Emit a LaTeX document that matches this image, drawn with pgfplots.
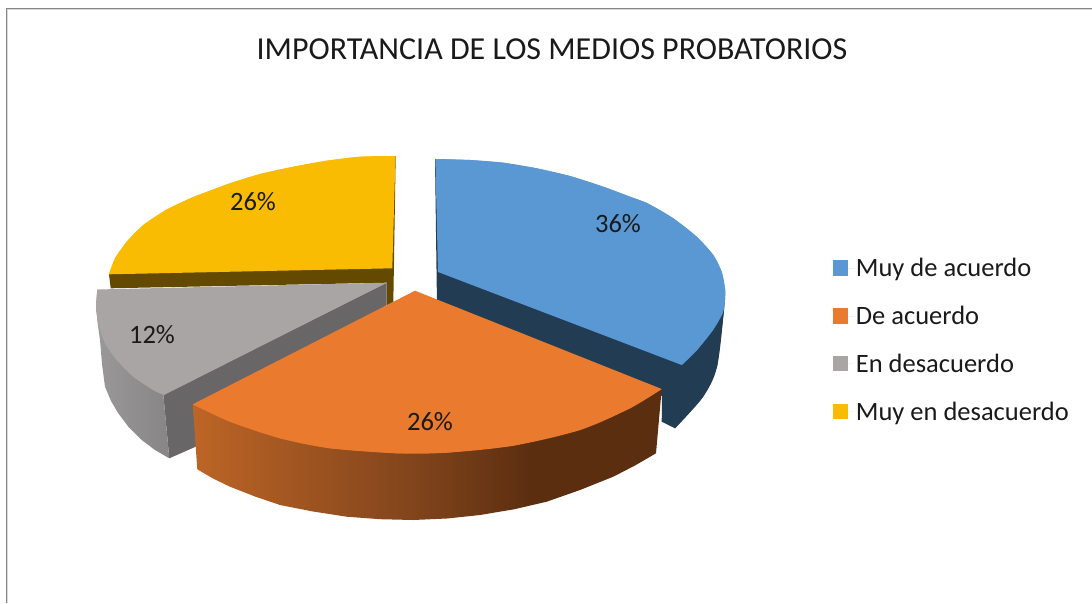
\documentclass[border=0pt]{standalone}
\usepackage{pgfplots}
\pgfplotsset{compat=1.18}
\usepackage{fontspec}
\setmainfont{Carlito}
\definecolor{blueT}{HTML}{5A98D3}
\definecolor{blueD}{HTML}{223C54}
\definecolor{orT}{HTML}{E97A2E}
\definecolor{orA}{HTML}{BD6526}
\definecolor{orB}{HTML}{7D421B}
\definecolor{orC}{HTML}{5C2E10}
\definecolor{grT}{HTML}{A9A5A4}
\definecolor{grD}{HTML}{686666}
\definecolor{grA}{HTML}{9A9898}
\definecolor{grB}{HTML}{878585}
\definecolor{yeT}{HTML}{FABC02}
\definecolor{yeD}{HTML}{634A00}
\definecolor{txt}{HTML}{1A1A1A}
\pgfdeclarehorizontalshading{orside}{100bp}{color(0bp)=(orA); color(25bp)=(orA); color(50bp)=(orB); color(61bp)=(orC); color(100bp)=(orC)}
\begin{document}
\begin{tikzpicture}
\begin{axis}[
  scale only axis, width=1092pt, height=603pt,
  xmin=0, xmax=1092, ymin=0, ymax=603, y dir=reverse,
  axis lines=none, clip=true,
  every axis plot/.append style={forget plot, sharp plot, draw=none},
  legend style={draw=none, fill=none, at={(axis cs:832.7,256)}, anchor=north west,
    font=\fontsize{26.5}{26.5}\selectfont\color{txt}, row sep=24pt, inner sep=0pt,
    cells={anchor=west}},
  legend cell align=left,
  legend image code/.code={\fill[#1] (0pt,-7.5pt) rectangle (15.5pt,8pt); \path (0pt,0pt) -- (21pt,0pt);},
]
\path (axis cs:0,0) rectangle (axis cs:1092,603);
% frame
\addplot[draw=black!15, line width=1pt] coordinates {(7.9,603) (7.9,9.9) (1092,9.9)};
\addplot[draw=black!48, line width=1.3pt] coordinates {(6.5,603) (6.5,8.5) (1092,8.5)};
% yellow side and top
\addplot[fill=yeD] coordinates {(109,274.3)(110.7,288.3)(386.7,282.7)(386.7,305)(393.3,303.3)(395.7,156)};
\addplot[fill=yeT] coordinates {(395.5,156)(360,156.7)(326.7,160.7)(293.3,166.7)(260,174)(230,183.3)(210,190.7)(193.3,197)(166.7,209.5)(143.3,225)(126.7,241.7)(115,258.3)(109,274.3)(392.3,268.3)};
\addplot[fill=yeT, smooth] coordinates {(395.5,156)(360,156.7)(326.7,160.7)(293.3,166.7)(260,174)(230,183.3)(210,190.7)(193.3,197)(166.7,209.5)(143.3,225)(126.7,241.7)(115,258.3)(109,274.3)};
% grey sides and top
\addplot[fill=grD] coordinates {(386.7,282.7)(386.7,305)(195,447)(169.3,458.3)(163.3,394.3)};
\addplot[shade, left color=grA, right color=grB] coordinates {(96,303)(97.5,322)(100,340)(102,364)(105,386.7)(111,401)(118.3,413.3)(129,427.5)(141.7,440)(155,450)(169.3,458.3)(163.3,394.3)};
\addplot[fill=grT] coordinates {(97.3,289.5)(386.7,282.7)(164,395)(153.3,390)(133.3,376.7)(116.7,360)(105,343.3)(98.3,323.3)(96,306.7)};
\addplot[fill=grT, smooth] coordinates {(164,395)(153.3,390)(133.3,376.7)(116.7,360)(105,343.3)(98.3,323.3)(96,306.7)(97.3,289.5)};
% blue side and top
\addplot[fill=blueD] coordinates {(435,159)(437,306)(662,396)(661.7,421.7)(675,428.3)(703,397)(717,367)(724,310)(725,290)};
\addplot[fill=blueD, smooth] coordinates {(675,428.3)(703,397)(717,367)(724,310)(725,290)};
\addplot[fill=blueT] coordinates {(435.3,159)(470,160)(503.3,162.7)(536.7,168.3)(570,176)(603.3,186.7)(630,196.7)(648,203.5)(673.3,218.3)(696.7,236.7)(713.3,255)(721.7,271.7)(725,288.3)(725,300)(722.7,313)(713,330)(697,350)(681.7,365)(438,272)};
\addplot[fill=blueT, smooth] coordinates {(435.3,159)(470,160)(503.3,162.7)(536.7,168.3)(570,176)(603.3,186.7)(630,196.7)(648,203.5)(673.3,218.3)(696.7,236.7)(713.3,255)(721.7,271.7)(725,288.3)(725,300)(722.7,313)(713,330)(697,350)(681.7,365)};
% orange side and top
\addplot[shade, shading=orside] coordinates {(192.7,404.3)(197.3,469.3)(213,478.5)(230,486.7)(255,496.5)(280,505)(313,511.5)(346.7,516.7)(380,519.2)(413.3,520)(447,518.5)(480,515)(514,509.3)(546.7,501.7)(580,490)(613.3,476.7)(635,465.5)(656,453.3)(661.7,389)};
\addplot[fill=orT] coordinates {(415,290.7)(661.7,389)(630,408.3)(580,430)(513.3,445.7)(446.7,452.7)(396.7,453.3)(330,448.3)(280,438.3)(230,421.7)(192.7,404.3)};
\addplot[fill=orT, smooth] coordinates {(661.7,389)(630,408.3)(580,430)(513.3,445.7)(446.7,452.7)(396.7,453.3)(330,448.3)(280,438.3)(230,421.7)(192.7,404.3)};
% legend
\addlegendimage{fill=blueT}\addlegendentry{Muy de acuerdo}
\addlegendimage{fill=orT}\addlegendentry{De acuerdo}
\addlegendimage{fill=grT}\addlegendentry{En desacuerdo}
\addlegendimage{fill=yeT}\addlegendentry{Muy en desacuerdo}
% labels
\node[text=txt, font=\fontsize{26.5}{26.5}\selectfont] at (axis cs:618,224) {36\%};
\node[text=txt, font=\fontsize{26.5}{26.5}\selectfont] at (axis cs:253,202) {26\%};
\node[text=txt, font=\fontsize{26.5}{26.5}\selectfont] at (axis cs:152,335) {12\%};
\node[text=txt, font=\fontsize{26.5}{26.5}\selectfont] at (axis cs:430,422) {26\%};
\node[text=txt, font=\fontsize{32}{32}\selectfont] at (axis cs:552,49) {IMPORTANCIA DE LOS MEDIOS PROBATORIOS};
\end{axis}
\end{tikzpicture}
\end{document}
